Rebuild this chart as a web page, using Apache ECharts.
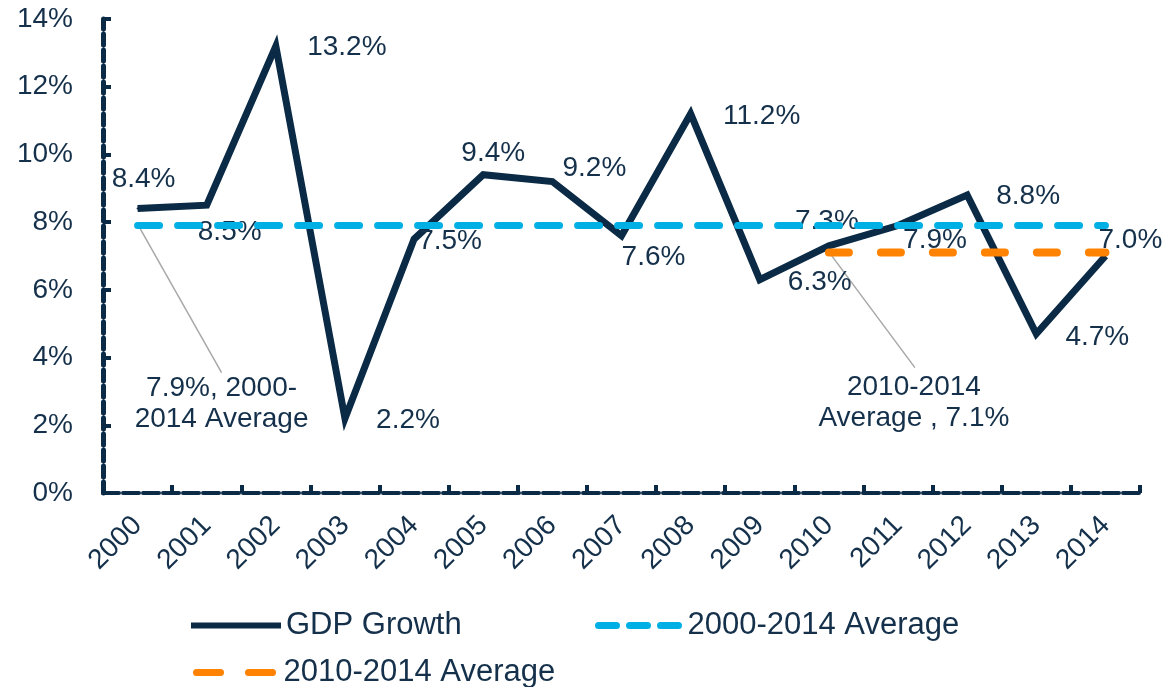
<!DOCTYPE html>
<html>
<head>
<meta charset="utf-8">
<title>GDP Growth 2000-2014</title>
<script src="https://cdn.jsdelivr.net/npm/echarts@6/dist/echarts.min.js"></script>
<style>
  html, body { margin: 0; padding: 0; background: #fff; }
  #chart { width: 1167px; height: 687px; }
</style>
</head>
<body>
<div id="chart"></div>
<script>
// x 轴年份
var years = ['2000', '2001', '2002', '2003', '2004', '2005', '2006', '2007',
             '2008', '2009', '2010', '2011', '2012', '2013', '2014'];
// GDP growth, %
var gdpGrowth = [8.4, 8.5, 13.2, 2.2, 7.5, 9.4, 9.2, 7.6, 11.2, 6.3, 7.3, 7.9, 8.8, 4.7, 7.0];
// averages, %
var avgAllYears = 7.9;      // 2000-2014
var avgRecent = 7.1;        // 2010-2014
var recentFrom = 2010;

// where each value label sits relative to its point (layout only)
var labelShift = [[6, -29], [23, 27], [71, 1], [63, 2], [36, 2], [10, -21], [42, -13], [32, 22],
                  [71, 2], [60, 3], [-2, -25], [37, 15], [61, 1], [61, 3], [25, -16]];

var navy = '#0a2a46';
var textNavy = '#14304a';
var cyan = '#00b0e4';
var orange = '#ff8200';
var font = '"Liberation Sans", Arial, sans-serif';

// rounded dash pieces for legend icons
function dashIcon(pieces, h) {
  var r = h / 2, d = 'path://';
  pieces.forEach(function (p) {
    d += 'M' + (p[0] + r) + ',0H' + (p[1] - r) + 'A' + r + ',' + r + ',0,0,1,' + (p[1] - r) + ',' + h +
         'H' + (p[0] + r) + 'A' + r + ',' + r + ',0,0,1,' + (p[0] + r) + ',0Z ';
  });
  return d;
}

var chart = echarts.init(document.getElementById('chart'));

chart.setOption({
  animation: false,
  textStyle: { fontFamily: font },
  grid: { left: 103, right: 27, top: 19, bottom: 194, containLabel: false },
  legend: [
    {
      data: [{ name: 'GDP Growth', icon: 'rect' }],
      left: 186, top: 605, itemWidth: 90, itemHeight: 6, selectedMode: false,
      textStyle: { fontSize: 31, color: textNavy, fontFamily: font }
    },
    {
      data: [{ name: '2000-2014 Average', icon: dashIcon([[0, 25], [31, 56], [62, 87]], 7) }],
      left: 590, top: 605, itemWidth: 88, itemHeight: 7, selectedMode: false,
      textStyle: { fontSize: 31, color: textNavy, fontFamily: font }
    },
    {
      data: [{ name: '2010-2014 Average', icon: dashIcon([[0, 31], [52, 83]], 7) }],
      left: 188, top: 652, itemWidth: 88, itemHeight: 7, selectedMode: false,
      textStyle: { fontSize: 31, color: textNavy, fontFamily: font }
    }
  ],
  xAxis: {
    type: 'category',
    data: years,
    boundaryGap: true,
    axisLine: { lineStyle: { color: navy, width: 4, type: [16, 4] } },
    axisTick: { show: true, inside: true, length: 8, lineStyle: { color: navy, width: 4 } },
    axisLabel: { rotate: 45, margin: 28, fontSize: 28, color: textNavy, fontFamily: font },
    splitLine: { show: false }
  },
  yAxis: {
    type: 'value',
    min: 0,
    max: 14,
    interval: 2,
    axisLine: { show: true, lineStyle: { color: navy, width: 5, type: [11, 5] } },
    axisTick: { show: true, inside: true, length: 8, lineStyle: { color: navy, width: 4 } },
    axisLabel: { formatter: '{value}%', fontSize: 28, margin: 30, color: textNavy, fontFamily: font },
    splitLine: { show: false }
  },
  series: [
    {
      name: 'GDP Growth',
      type: 'line',
      data: gdpGrowth.map(function (v, i) {
        return { value: v, label: { offset: labelShift[i] } };
      }),
      symbol: 'circle',
      symbolSize: 2,
      itemStyle: { color: navy },
      lineStyle: { color: navy, width: 7, join: 'miter' },
      label: {
        show: true,
        position: 'inside',
        fontSize: 28,
        color: textNavy,
        fontFamily: font,
        formatter: function (p) { return p.value.toFixed(1) + '%'; }
      },
      z: 2
    },
    {
      name: '2000-2014 Average',
      type: 'line',
      data: years.map(function () { return avgAllYears; }),
      symbol: 'none',
      itemStyle: { color: cyan },
      lineStyle: { color: cyan, width: 7, type: [22, 18], cap: 'round' },
      z: 3
    },
    {
      name: '2010-2014 Average',
      type: 'line',
      data: years.map(function (y) { return +y >= recentFrom ? avgRecent : '-'; }),
      symbol: 'none',
      itemStyle: { color: orange },
      lineStyle: { color: orange, width: 8, type: [20, 32], cap: 'round' },
      z: 3
    }
  ]
});

// 注释: 引线 + 文字, 从平均线起点拉出
var pAll = chart.convertToPixel({ gridIndex: 0 }, ['2000', avgAllYears]);
var pRecent = chart.convertToPixel({ gridIndex: 0 }, [String(recentFrom), avgRecent]);
var noteStyle = { fill: textNavy, fontSize: 28, fontFamily: font, align: 'center', verticalAlign: 'top', lineHeight: 31 };

chart.setOption({
  graphic: [
    {
      type: 'line', z: 1,
      shape: { x1: pAll[0] + 2, y1: pAll[1] + 2, x2: pAll[0] + 84, y2: pAll[1] + 147 },
      style: { stroke: '#a8a8a8', lineWidth: 1.5 }
    },
    {
      type: 'text', x: pAll[0] + 84, y: pAll[1] + 147,
      style: Object.assign({ text: '7.9%, 2000-\n2014 Average' }, noteStyle)
    },
    {
      type: 'line', z: 1,
      shape: { x1: pRecent[0] + 2, y1: pRecent[1] + 2, x2: pRecent[0] + 86, y2: pRecent[1] + 115 },
      style: { stroke: '#a8a8a8', lineWidth: 1.5 }
    },
    {
      type: 'text', x: pRecent[0] + 85, y: pRecent[1] + 119,
      style: Object.assign({ text: '2010-2014\nAverage , 7.1%' }, noteStyle)
    }
  ]
});
</script>
</body>
</html>
